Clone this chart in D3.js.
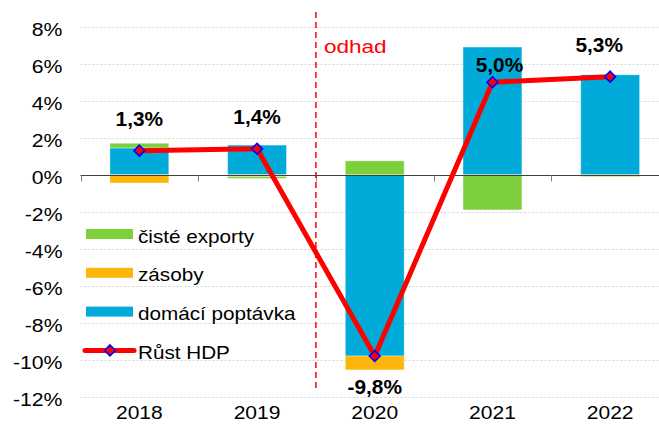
<!doctype html>
<html lang="cs">
<head>
<meta charset="UTF-8">
<title>Růst HDP</title>
<style>
    body { margin: 0; background: #fff; }
    svg text { font-family: "Liberation Sans", Arial, sans-serif; }
</style>
</head>
<body>
<div class="canvas"></div>
<script src="https://d3js.org/d3.v7.min.js"></script>
<script>
    // data
    const years = ['2018', '2019', '2020', '2021', '2022'];
    const domaci = [1.45, 1.6, -9.8, 6.9, 5.4];
    const zasoby = [-0.45, -0.1, -0.75, 0, 0];
    const exporty = [0.25, -0.1, 0.75, -1.9, -0.1];
    const hdp = [1.3, 1.4, -9.8, 5.0, 5.3];
    const hdpLabels = ['1,3%', '1,4%', '-9,8%', '5,0%', '5,3%'];
    const yTicks = [8, 6, 4, 2, 0, -2, -4, -6, -8, -10, -12];

    const svgWidth = 659;
    const svgHeight = 432;

    const series = [
        { key: 'domaci', name: 'domácí poptávka', color: '#00ABD9', values: domaci },
        { key: 'zasoby', name: 'zásoby', color: '#FFB50A', values: zasoby },
        { key: 'exporty', name: 'čisté exporty', color: '#7ECF3C', values: exporty }
    ];

    const table = years.map((year, i) => {
        const row = { year };
        series.forEach(s => row[s.key] = s.values[i]);
        return row;
    });

    // the original text is a bit wider than Arial, so stretch it horizontally
    const place = (fx, fy, sx) => (d, i) => `translate(${fx(d, i)}, ${fy(d, i)}) scale(${sx}, 1)`;

    const svg = d3.select('.canvas').append('svg')
        .attr('width', svgWidth)
        .attr('height', svgHeight);

    const y = d3.scaleLinear()
        .domain([-12, 8])
        .range([396.7, 26.7]);

    const x = d3.scaleBand()
        .domain(years)
        .range([80.5, 669])
        .padding(0);

    // gridlines
    svg.append('g')
        .selectAll('line')
        .data(yTicks.filter(v => v !== 0))
        .join('line')
        .attr('x1', 80.5)
        .attr('x2', svgWidth)
        .attr('y1', d => Math.round(y(d)) + 0.5)
        .attr('y2', d => Math.round(y(d)) + 0.5)
        .attr('stroke', '#d4d4d4')
        .attr('stroke-dasharray', '2,2');

    // y labels
    svg.append('g')
        .selectAll('text')
        .data(yTicks)
        .join('text')
        .attr('transform', place(() => 62.5, d => y(d) + 9, 1.18))
        .attr('text-anchor', 'end')
        .attr('font-size', 18)
        .attr('fill', '#000')
        .text(d => d + '%');

    // stacked bars
    const stack = d3.stack()
        .keys(series.map(s => s.key))
        .offset(d3.stackOffsetDiverging);
    const stacked = stack(table);
    const bw = x.bandwidth() * 0.5;

    svg.append('g')
        .selectAll('g')
        .data(stacked)
        .join('g')
        .attr('fill', (d, i) => series[i].color)
        .selectAll('rect')
        .data(d => d)
        .join('rect')
        .attr('x', d => x(d.data.year) + (x.bandwidth() - bw) / 2)
        .attr('width', bw)
        .attr('y', d => y(Math.max(d[0], d[1])))
        .attr('height', d => Math.abs(y(d[0]) - y(d[1])))
        .attr('stroke', 'rgba(255,255,255,0.35)')
        .attr('stroke-width', 1);

    // zero axis
    const axisY = Math.round(y(0)) + 0.5;
    svg.append('line')
        .attr('x1', 80.5).attr('x2', svgWidth)
        .attr('y1', axisY).attr('y2', axisY)
        .attr('stroke', '#404040')
        .attr('stroke-width', 1.2);
    svg.append('g')
        .selectAll('line')
        .data(years.concat(['end']))
        .join('line')
        .attr('x1', (d, i) => Math.round(80.5 + i * x.bandwidth()) + 0.5)
        .attr('x2', (d, i) => Math.round(80.5 + i * x.bandwidth()) + 0.5)
        .attr('y1', axisY)
        .attr('y2', axisY + 6)
        .attr('stroke', '#808080');

    // x labels
    svg.append('g')
        .selectAll('text')
        .data(years)
        .join('text')
        .attr('transform', place(d => x(d) + x.bandwidth() / 2, () => 419, 1.17))
        .attr('text-anchor', 'middle')
        .attr('font-size', 18)
        .text(d => d);

    // estimate divider
    const divX = x('2020');
    svg.append('line')
        .attr('x1', divX).attr('x2', divX)
        .attr('y1', 12).attr('y2', 390)
        .attr('stroke', '#ff0000')
        .attr('stroke-width', 1.5)
        .attr('stroke-dasharray', '6,4');
    svg.append('text')
        .attr('transform', `translate(${divX + 8}, 53) scale(1.22, 1)`)
        .attr('font-size', 18.5)
        .attr('fill', '#ff0000')
        .text('odhad');

    // GDP line
    const cx = d => x(d) + x.bandwidth() / 2;
    const line = d3.line()
        .x((d, i) => cx(years[i]))
        .y(d => y(d));
    svg.append('path')
        .datum(hdp)
        .attr('d', line)
        .attr('fill', 'none')
        .attr('stroke', '#ff0000')
        .attr('stroke-width', 5)
        .attr('stroke-linejoin', 'round');

    const diamond = d3.symbol().type(d3.symbolDiamond2).size(75);
    svg.append('g')
        .selectAll('path')
        .data(hdp)
        .join('path')
        .attr('d', diamond)
        .attr('transform', (d, i) => `translate(${cx(years[i])}, ${y(d)})`)
        .attr('fill', '#ff0000')
        .attr('stroke', '#0000ff')
        .attr('stroke-width', 1.6);

    // data labels
    const labelDx = { 3: 7, 4: -11 };
    const labelDy = { 3: -10 };
    svg.append('g')
        .selectAll('text')
        .data(hdp)
        .join('text')
        .attr('transform', place(
            (d, i) => cx(years[i]) + (labelDx[i] || 0),
            (d, i) => d < 0 ? y(d) + 38 : y(d) + (labelDy[i] || -25),
            1.07))
        .attr('text-anchor', 'middle')
        .attr('font-size', 19.5)
        .attr('font-weight', 'bold')
        .text((d, i) => hdpLabels[i]);

    // legend
    const legendItems = [
        { name: 'čisté exporty', color: '#7ECF3C', type: 'bar' },
        { name: 'zásoby', color: '#FFB50A', type: 'bar' },
        { name: 'domácí poptávka', color: '#00ABD9', type: 'bar' },
        { name: 'Růst HDP', color: '#ff0000', type: 'line' }
    ];
    const legend = svg.append('g');
    const item = legend.selectAll('g')
        .data(legendItems)
        .join('g')
        .attr('transform', (d, i) => `translate(86, ${234 + i * 38.8})`);
    item.filter(d => d.type === 'bar')
        .append('rect')
        .attr('x', 0).attr('y', -5)
        .attr('width', 47).attr('height', 10)
        .attr('fill', d => d.color);
    const lineItem = item.filter(d => d.type === 'line');
    lineItem.append('line')
        .attr('x1', -1).attr('x2', 48)
        .attr('y1', 0).attr('y2', 0)
        .attr('stroke', '#ff0000')
        .attr('stroke-width', 5)
        .attr('stroke-linecap', 'round');
    lineItem.append('path')
        .attr('d', diamond)
        .attr('transform', 'translate(24, 0)')
        .attr('fill', '#ff0000')
        .attr('stroke', '#0000ff')
        .attr('stroke-width', 1.6);
    item.append('text')
        .attr('transform', 'translate(52, 8.5) scale(1.15, 1)')
        .attr('font-size', 18)
        .text(d => d.name);
</script>
</body>
</html>
